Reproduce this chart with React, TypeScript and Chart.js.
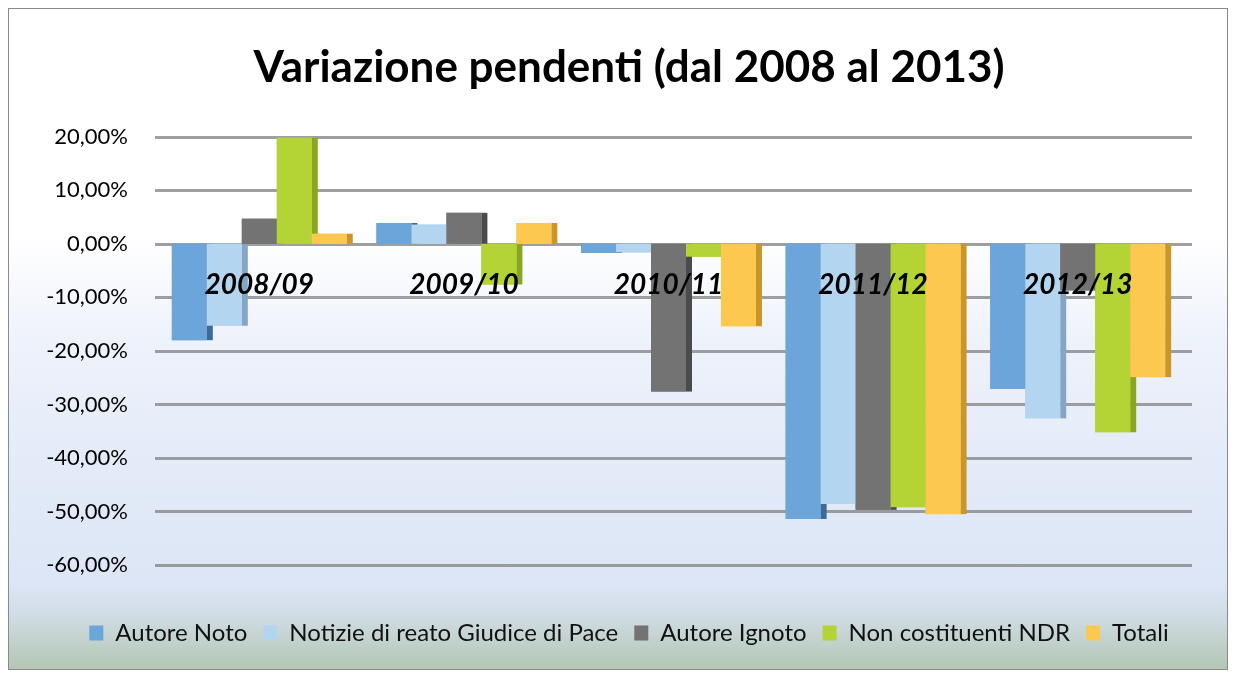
import React, { useEffect, useRef } from "react";
import { Chart, registerables } from "chart.js";

Chart.register(...registerables);

const categories = ["2008/09", "2009/10", "2010/11", "2011/12", "2012/13"];
const seriesNames = [
  "Autore Noto",
  "Notizie di reato Giudice di Pace",
  "Autore Ignoto",
  "Non costituenti NDR",
  "Totali",
];
const autoreNoto = [-18.0, 3.9, -1.7, -51.4, -27.1];
const notizieGdP = [-15.3, 3.6, -1.6, -48.6, -32.6];
const autoreIgnoto = [4.7, 5.8, -27.6, -49.7, -8.7];
const nonCostituenti = [19.8, -7.6, -2.4, -49.2, -35.2];
const totali = [1.9, 3.9, -15.4, -50.5, -24.9];
const frontColors = ["#6ca5da", "#b3d5f0", "#737373", "#b4d334", "#fdc84f"];
const sideColors = ["#3e6b96", "#84a6c4", "#4b4b4b", "#8aa51f", "#c9962a"];
const yMin = -60;
const yMax = 20;
const yStep = 10;

const DEPTH = 6;

const gridPlugin = {
  id: "grid3d",
  beforeDatasetsDraw(chart: any) {
    const ctx = chart.ctx;
    const ys = chart.scales.y;
    const area = chart.chartArea;
    ctx.save();
    ctx.strokeStyle = "rgba(135,135,135,0.8)";
    ctx.lineWidth = 3;
    ys.ticks.forEach((t: any) => {
      const py = Math.round(ys.getPixelForValue(t.value)) + 0.5;
      ctx.beginPath();
      ctx.moveTo(area.left - 2, py);
      ctx.lineTo(area.right + 12, py);
      ctx.stroke();
    });
    ctx.restore();
  },
};

const bar3d = {
  id: "bar3d",
  afterDatasetsDraw(chart: any) {
    const ctx = chart.ctx;
    ctx.save();
    chart.data.datasets.forEach((_ds: any, i: number) => {
      const meta = chart.getDatasetMeta(i);
      meta.data.forEach((el: any) => {
        const { x, y, base, width } = el.getProps(["x", "y", "base", "width"], true);
        const left = x - width / 2;
        const right = x + width / 2;
        const top = Math.min(y, base);
        const bottom = Math.max(y, base);
        ctx.fillStyle = sideColors[i];
        ctx.fillRect(right, top, DEPTH, bottom - top);
        ctx.fillStyle = frontColors[i];
        ctx.fillRect(left, top, width, bottom - top);
      });
    });
    ctx.restore();
  },
};

export default function App() {
  const ref = useRef<HTMLCanvasElement>(null);
  useEffect(() => {
    if (!ref.current) return;
    const seriesData = [autoreNoto, notizieGdP, autoreIgnoto, nonCostituenti, totali];
    const chart = new Chart(ref.current, {
      type: "bar",
      data: {
        labels: categories,
        datasets: seriesNames.map((name, i) => ({
          label: name,
          data: seriesData[i],
          backgroundColor: frontColors[i],
          borderWidth: 0,
          categoryPercentage: 0.855,
          barPercentage: 1,
        })),
      },
      options: {
        animation: false,
        responsive: true,
        maintainAspectRatio: false,
        layout: { padding: { top: 10, right: 0, left: 22, bottom: 14 } },
        plugins: {
          title: {
            display: true,
            text: "Variazione pendenti (dal 2008 al 2013)",
            color: "#000",
            font: { family: "Lato", size: 44, weight: "bold" },
            padding: { top: 22, bottom: 43 },
          },
          legend: {
            position: "bottom",
            labels: {
              boxWidth: 14,
              boxHeight: 15,
              padding: 16,
              color: "#111",
              font: { family: "Lato", size: 24 },
            },
          },
          tooltip: { enabled: false },
        },
        scales: {
          x: {
            type: "category",
            position: { y: 0 } as any,
            grid: { display: false, drawTicks: false },
            border: { display: false },
            ticks: {
              z: 1,
              padding: 24,
              color: "#000",
              autoSkip: false,
              maxRotation: 0,
              font: { family: "Lato", size: 28, weight: "bold", style: "italic" },
            },
          },
          xPad: {
            type: "category",
            position: "bottom",
            labels: categories,
            grid: { display: false, drawTicks: false },
            border: { display: false },
            ticks: { display: false },
            afterFit: (scale: any) => {
              scale.height = 40;
            },
          },
          y: {
            min: yMin,
            max: yMax,
            afterFit: (scale: any) => {
              scale.width = 126;
            },
            grid: { display: false, drawTicks: false },
            border: { display: false },
            ticks: {
              stepSize: yStep,
              padding: 29,
              color: "#000",
              font: { family: "Lato", size: 22 },
              callback: (v: any) => Number(v).toFixed(2).replace(".", ",") + "%",
            },
          },
          yPad: {
            type: "linear",
            position: "right",
            grid: { display: false, drawTicks: false },
            border: { display: false },
            ticks: { display: false },
            afterFit: (scale: any) => {
              scale.width = 47;
            },
          },
        },
      },
      plugins: [gridPlugin, bar3d],
    });
    return () => chart.destroy();
  }, []);

  return (
    <div
      style={{
        position: "relative",
        width: 1218,
        height: 660,
        border: "1px solid #8a8a8a",
        boxShadow: "4px 4px 4px rgba(0,0,0,0.45)",
        background:
          "linear-gradient(to bottom, #ffffff 0%, #ffffff 35%, #eef2fb 50%, #e2eaf8 72%, #dde6f6 87%, #d0dce4 92%, #b3c6b3 100%)",
      }}
    >
      <canvas ref={ref} />
    </div>
  );
}
